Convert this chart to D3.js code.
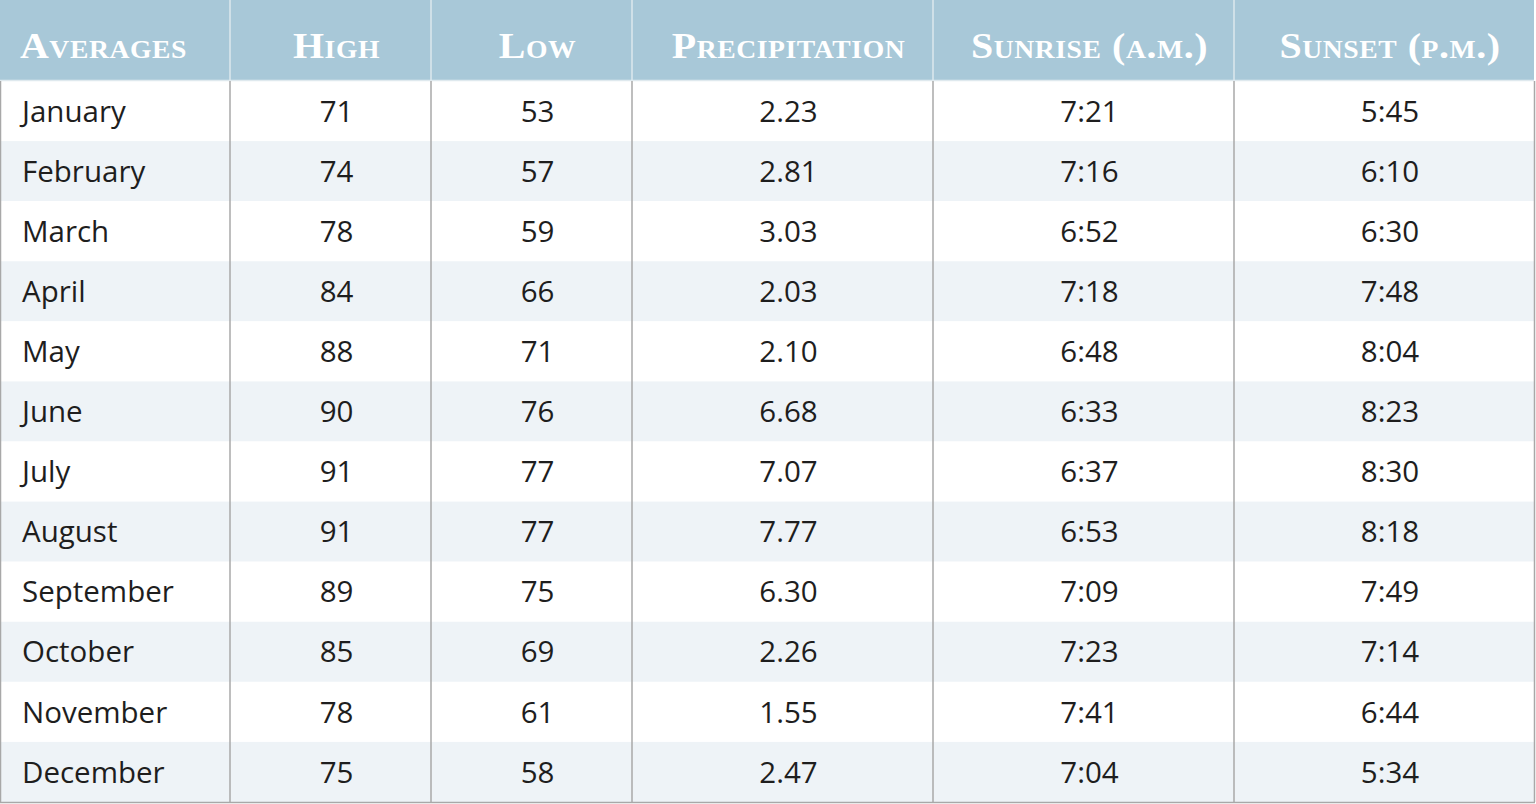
<!DOCTYPE html>
<html><head><meta charset="utf-8">
<script src="https://cdn.jsdelivr.net/npm/d3@7"></script>
<style>
html,body{margin:0;padding:0;background:#fff;}
svg{display:block;}
</style></head>
<body>
<svg id="chart" width="1536" height="804"></svg>
<script>
const headers = ["Averages","High","Low","Precipitation","Sunrise (a.m.)","Sunset (p.m.)"];
const months = ["January","February","March","April","May","June","July","August","September","October","November","December"];
const high = [71,74,78,84,88,90,91,91,89,85,78,75];
const low = [53,57,59,66,71,76,77,77,75,69,61,58];
const precipitation = ["2.23","2.81","3.03","2.03","2.10","6.68","7.07","7.77","6.30","2.26","1.55","2.47"];
const sunrise = ["7:21","7:16","6:52","7:18","6:48","6:33","6:37","6:53","7:09","7:23","7:41","7:04"];
const sunset = ["5:45","6:10","6:30","7:48","8:04","8:23","8:30","8:18","7:49","7:14","6:44","5:34"];
const colWeights = [230,201,201,301,301,300];

const svg = d3.select("#chart");
const W = 1534, headerH = 80, bottom = 802;
const edges = d3.cumsum([0].concat(colWeights));
const x = d3.scaleLinear().domain([0, d3.sum(colWeights)]).range([0, W]);
const y = d3.scaleBand().domain(months).range([headerH + 1, bottom]);

const rows = months.map((m,i)=>[m, high[i], low[i], precipitation[i], sunrise[i], sunset[i]]);

// header background
svg.append("rect").attr("x",0).attr("y",0).attr("width",W).attr("height",headerH).attr("fill","#a8c8d8");

// row backgrounds
svg.selectAll("rect.row").data(months).join("rect").attr("class","row")
  .attr("x",0).attr("y",d=>y(d)).attr("width",W).attr("height",y.bandwidth())
  .attr("fill",(d,i)=> i%2 ? "#eef3f7" : "#ffffff");

// header line
svg.append("line").attr("x1",0).attr("x2",W).attr("y1",headerH+0.5).attr("y2",headerH+0.5)
  .attr("stroke","#dfe9ee").attr("stroke-width",1.5);

// vertical lines
const inner = edges.slice(1, -1);
svg.selectAll("line.vh").data(inner).join("line").attr("class","vh")
  .attr("x1",d=>x(d)).attr("x2",d=>x(d)).attr("y1",0).attr("y2",headerH)
  .attr("stroke","#dde8ee").attr("stroke-width",1.5);
svg.selectAll("line.vb").data(inner).join("line").attr("class","vb")
  .attr("x1",d=>x(d)).attr("x2",d=>x(d)).attr("y1",headerH+1).attr("y2",bottom)
  .attr("stroke","#a8a8a8").attr("stroke-width",1.5);
// outer borders
svg.append("line").attr("x1",0.5).attr("x2",0.5).attr("y1",headerH+1).attr("y2",bottom).attr("stroke","#a8a8a8").attr("stroke-width",1.5);
svg.append("line").attr("x1",W+0.5).attr("x2",W+0.5).attr("y1",headerH+1).attr("y2",bottom).attr("stroke","#a8a8a8").attr("stroke-width",1.5);
svg.append("line").attr("x1",0).attr("x2",W+1).attr("y1",bottom+0.5).attr("y2",bottom+0.5).attr("stroke","#a8a8a8").attr("stroke-width",1.5);

const colX = (j, first)=> j===0 ? x(edges[0]) + first : (x(edges[j]) + x(edges[j+1]))/2 + 6;

// header text
svg.selectAll("text.h").data(headers).join("text").attr("class","h")
  .attr("transform",(d,j)=>`translate(${colX(j,20)},58) scale(1.14,1)`)
  .attr("text-anchor",(d,j)=> j===0 ? "start" : "middle")
  .style("font-family","'Liberation Serif','DejaVu Serif',serif")
  .style("font-weight","bold").style("font-variant","small-caps")
  .style("font-size","35px").style("letter-spacing","0.5px")
  .attr("fill","#ffffff").text(d=>d);

// body text
const g = svg.selectAll("g.r").data(rows).join("g").attr("class","r")
  .attr("transform",(d,i)=>`translate(0,${y(months[i]) + y.bandwidth()/2})`);
g.selectAll("text").data(d=>d).join("text")
  .attr("x",(d,j)=>colX(j,22)).attr("y",0).attr("dy","0.36em")
  .attr("text-anchor",(d,j)=> j===0 ? "start" : "middle")
  .style("font-family","'Open Sans',sans-serif").style("font-size","29.5px")
  .attr("fill","#1e1e1e").text(d=>d);
</script>
</body></html>
